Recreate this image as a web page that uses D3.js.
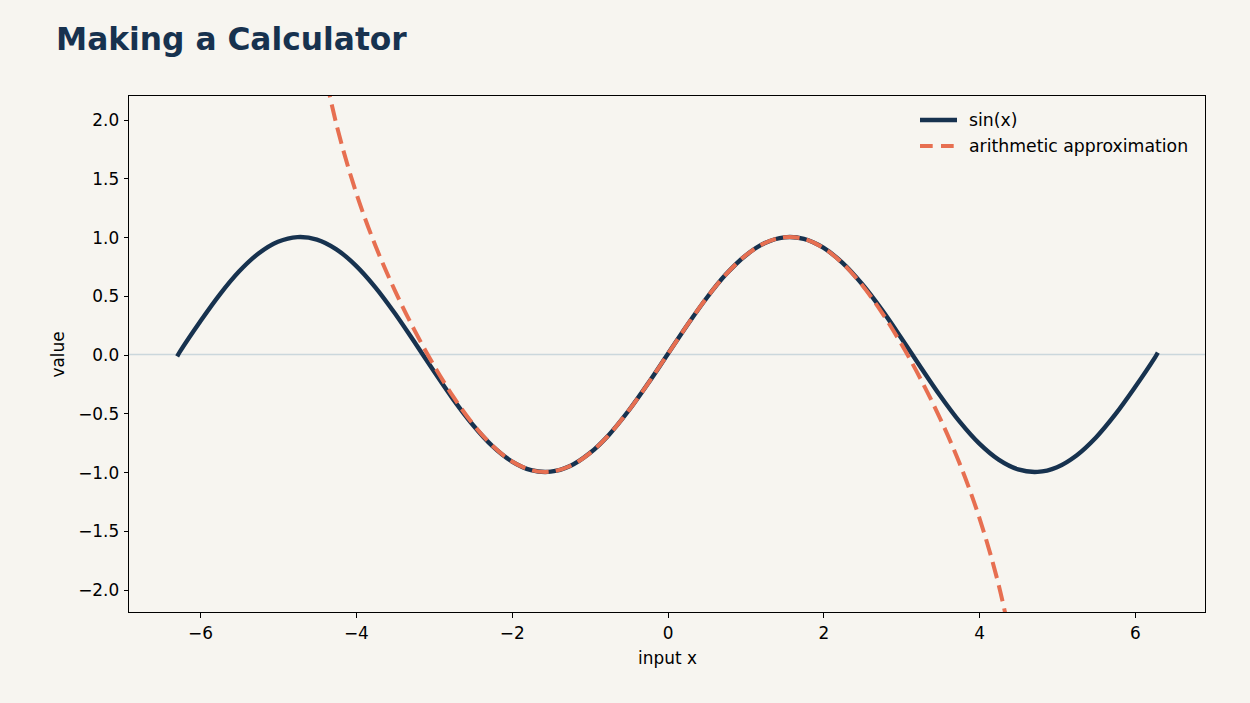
<!DOCTYPE html>
<html lang="en">
<head>
<meta charset="UTF-8">
<title>Making a Calculator</title>
<script src="https://d3js.org/d3.v7.min.js"></script>
<style>
    body {
        margin: 0;
        background-color: #f7f5f0;
        font-family: 'DejaVu Sans', sans-serif;
    }
    svg { display: block; }
    .tick text { font-size: 16.9px; fill: #000; }
    .axis-label { font-size: 16.9px; fill: #000; }
    .legend-text { font-size: 17.3px; fill: #000; }
</style>
</head>
<body>
<script>
    // sample points
    const xs = [-6.28, -6.25, -6, -5.75, -5.5, -5.25, -5, -4.75, -4.5, -4.25, -4, -3.75, -3.5, -3.25,
        -3, -2.75, -2.5, -2.25, -2, -1.75, -1.5, -1.25, -1, -0.75, -0.5, -0.25, 0,
        0.25, 0.5, 0.75, 1, 1.25, 1.5, 1.75, 2, 2.25, 2.5, 2.75, 3, 3.25, 3.5, 3.75,
        4, 4.25, 4.5, 4.75, 5, 5.25, 5.5, 5.75, 6, 6.25, 6.28];

    const sinValues = [0.0, 0.033, 0.279, 0.508, 0.706, 0.859, 0.959, 0.999, 0.978, 0.895, 0.757, 0.572, 0.351, 0.108,
        -0.141, -0.382, -0.598, -0.778, -0.909, -0.984, -0.997, -0.949, -0.841, -0.682, -0.479, -0.247, 0,
        0.247, 0.479, 0.682, 0.841, 0.949, 0.997, 0.984, 0.909, 0.778, 0.598, 0.382, 0.141, -0.108, -0.351, -0.572,
        -0.757, -0.895, -0.978, -0.999, -0.959, -0.859, -0.706, -0.508, -0.279, -0.033, 0.0];

    const approxValues = [null, null, null, null, null, null, null, null, 2.724, 1.959, 1.384, 0.928, 0.546, 0.210,
        -0.091, -0.359, -0.589, -0.774, -0.908, -0.984, -0.997, -0.949, -0.841, -0.682, -0.479, -0.247, 0,
        0.247, 0.479, 0.682, 0.841, 0.949, 0.997, 0.984, 0.908, 0.774, 0.589, 0.359, 0.091, -0.210, -0.546, -0.928,
        -1.384, -1.959, -2.724, null, null, null, null, null, null, null, null];

    const xTicks = [-6, -4, -2, 0, 2, 4, 6];
    const yTicks = [-2.0, -1.5, -1.0, -0.5, 0.0, 0.5, 1.0, 1.5, 2.0];

    const seriesNames = ["sin(x)", "arithmetic approximation"];

    const navy = "#17324f";
    const coral = "#e76f51";

    const width = 1250, height = 703;
    const margin = { top: 96, right: 44, bottom: 90, left: 129 };
    const innerW = width - margin.left - margin.right;
    const innerH = height - margin.top - margin.bottom;

    const svg = d3.select("body").append("svg")
        .attr("width", width)
        .attr("height", height);

    svg.append("text")
        .attr("x", 56)
        .attr("y", 49.5)
        .attr("font-size", "31.3px")
        .attr("font-weight", "bold")
        .attr("fill", navy)
        .text("Making a Calculator");

    const plot = svg.append("g")
        .attr("transform", `translate(${margin.left},${margin.top})`);

    const x = d3.scaleLinear().domain([-6.912, 6.912]).range([0, innerW]);
    const y = d3.scaleLinear().domain([-2.2, 2.2]).range([innerH, 0]);

    const fmtMinus = v => d3.format(".1f")(v).replace("-", "\u2212");

    svg.append("defs").append("clipPath")
        .attr("id", "plot-clip")
        .append("rect")
        .attr("width", innerW)
        .attr("height", innerH);

    // zero line
    plot.append("line")
        .attr("x1", 0).attr("x2", innerW)
        .attr("y1", y(0)).attr("y2", y(0))
        .attr("stroke", "#cbd7dc")
        .attr("stroke-width", 1.3);

    const sinPts = xs.map((v, i) => [v, sinValues[i]]);
    const approxPts = xs.map((v, i) => [v, approxValues[i]]);

    const line = d3.line()
        .defined(d => d[1] !== null)
        .x(d => x(d[0]))
        .y(d => y(d[1]))
        .curve(d3.curveCatmullRom.alpha(0.5));

    const curves = plot.append("g").attr("clip-path", "url(#plot-clip)");

    curves.append("path")
        .datum(sinPts)
        .attr("fill", "none")
        .attr("stroke", navy)
        .attr("stroke-width", 4.4)
        .attr("stroke-linecap", "square")
        .attr("stroke-linejoin", "round")
        .attr("d", line);

    curves.append("path")
        .datum(approxPts)
        .attr("fill", "none")
        .attr("stroke", coral)
        .attr("stroke-width", 4.0)
        .attr("stroke-dasharray", "16.6,7.2")
        .attr("stroke-linejoin", "round")
        .attr("d", line);

    // axes
    const xAxis = plot.append("g")
        .attr("transform", `translate(0,${innerH})`)
        .call(d3.axisBottom(x).tickValues(xTicks).tickSize(4.9).tickPadding(4.9)
            .tickFormat(v => String(v).replace("-", "\u2212")));

    const yAxis = plot.append("g")
        .call(d3.axisLeft(y).tickValues(yTicks).tickSize(4.9).tickPadding(4.9)
            .tickFormat(fmtMinus));

    [xAxis, yAxis].forEach(a => {
        a.select(".domain").remove();
        a.selectAll(".tick line").attr("stroke", "#000").attr("stroke-width", 1)
            .attr("shape-rendering", "crispEdges");
        a.selectAll(".tick text").attr("font-family", "'DejaVu Sans', sans-serif");
    });
    xAxis.selectAll(".tick text").attr("y", 26).attr("dy", 0);
    yAxis.selectAll(".tick text").attr("dy", "0.36em");

    // frame
    plot.append("rect")
        .attr("x", -0.5)
        .attr("y", -0.5)
        .attr("width", innerW)
        .attr("height", innerH)
        .attr("fill", "none")
        .attr("stroke", "#000")
        .attr("stroke-width", 1)
        .attr("shape-rendering", "crispEdges");

    svg.append("text")
        .attr("class", "axis-label")
        .attr("x", margin.left + x(0))
        .attr("y", 664)
        .attr("text-anchor", "middle")
        .text("input x");

    svg.append("text")
        .attr("class", "axis-label")
        .attr("transform", `translate(64,${margin.top + y(0)}) rotate(-90)`)
        .attr("text-anchor", "middle")
        .text("value");

    // legend
    const legend = svg.append("g").attr("transform", "translate(920,120)");
    seriesNames.forEach((name, i) => {
        const row = legend.append("g").attr("transform", `translate(0,${i * 26})`);
        row.append("line")
            .attr("x1", 0).attr("x2", 37)
            .attr("stroke", i === 0 ? navy : coral)
            .attr("stroke-width", i === 0 ? 4.4 : 4.0)
            .attr("stroke-dasharray", i === 0 ? null : "12.7,8.3");
        row.append("text")
            .attr("class", "legend-text")
            .attr("x", 49)
            .attr("dy", "0.36em")
            .text(name);
    });
</script>
</body>
</html>
